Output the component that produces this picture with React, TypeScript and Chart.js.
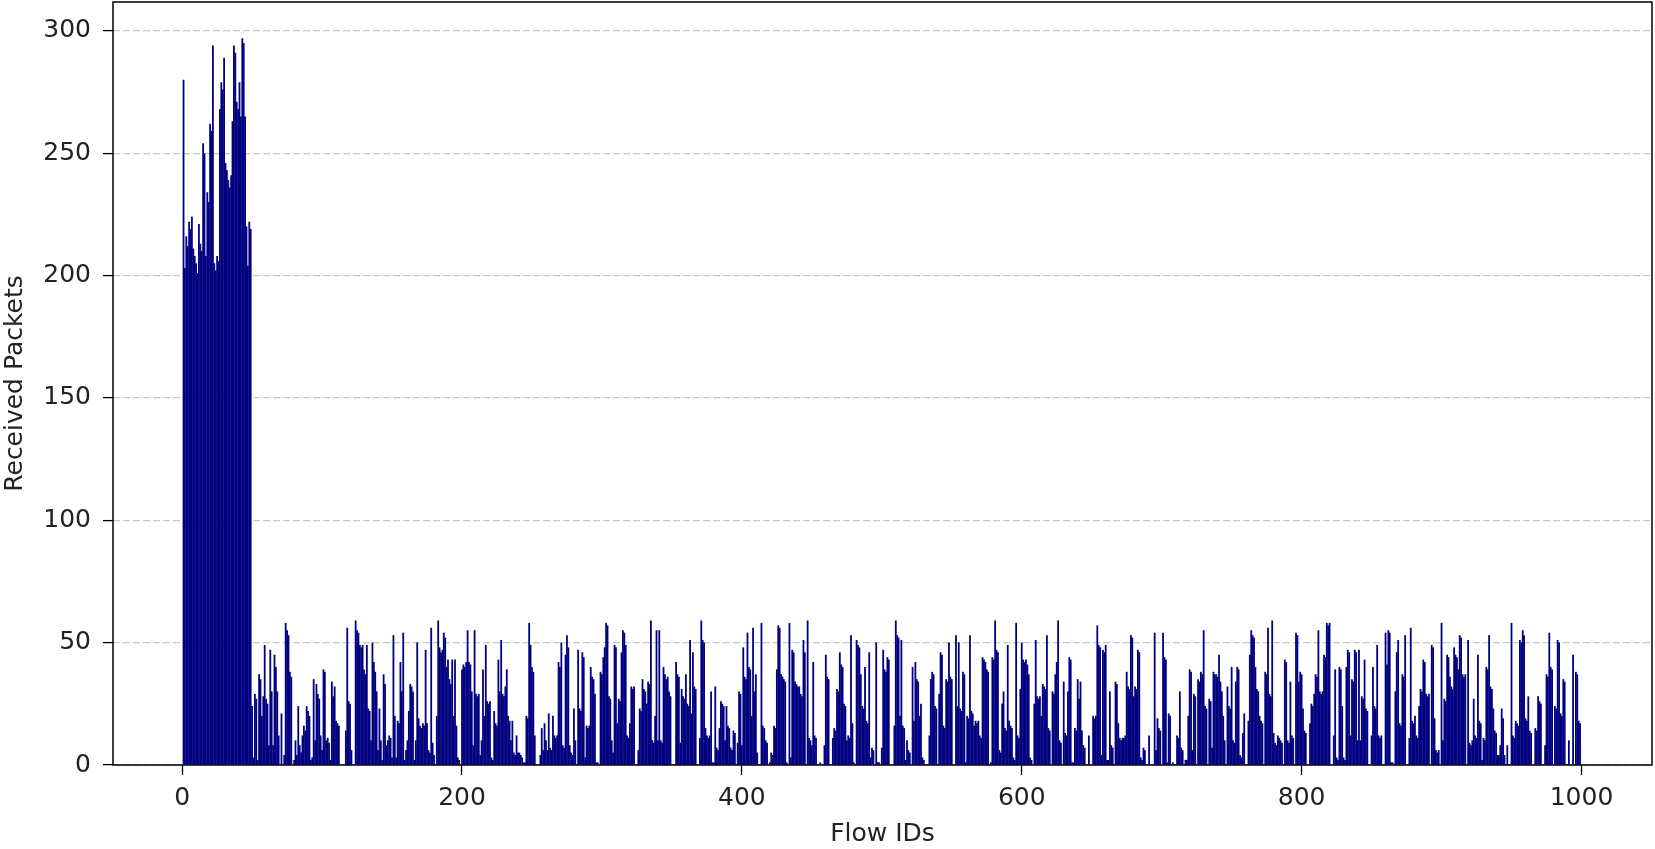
import React, { useEffect, useRef } from "react";
import { Chart, registerables } from "chart.js";

Chart.register(...registerables);

const xTickValues = [0, 200, 400, 600, 800, 1000];
const yTickValues = [0, 50, 100, 150, 200, 250, 300];
const xAxisTitle = "Flow IDs";
const yAxisTitle = "Received Packets";

// Received packets per flow, flows 1..1000
const packets1to49 = [280, 203, 216, 212, 222, 219, 224, 211, 208, 205, 201, 221, 213, 210, 254, 250, 208, 234, 230, 262, 259, 294, 205, 202, 208, 206, 268, 279, 276, 289, 246, 243, 239, 236, 241, 263, 294, 291, 271, 268, 279, 265, 297, 295, 265, 220, 204, 222, 219];
const packets50to144 = [24, 3, 29, 27, 2, 37, 35, 20, 28, 49, 27, 25, 8, 47, 30, 8, 45, 40, 30, 12, 0, 21, 0, 4, 58, 55, 53, 38, 36, 0, 2, 10, 4, 24, 8, 5, 12, 16, 14, 24, 22, 20, 2, 3, 35, 10, 33, 29, 27, 12, 6, 39, 38, 10, 11, 9, 2, 34, 28, 32, 18, 17, 16, 0, 0, 0, 0, 14, 56, 26, 25, 6, 0, 0, 59, 55, 54, 49, 48, 49, 39, 37, 49, 23, 22, 10, 50, 42, 38, 30, 6, 23, 10, 2, 37];
const packets145to241 = [33, 8, 10, 12, 11, 3, 53, 20, 3, 18, 17, 42, 30, 54, 2, 6, 10, 22, 33, 32, 30, 2, 10, 50, 19, 16, 15, 17, 16, 47, 17, 6, 5, 56, 9, 4, 0, 20, 59, 48, 46, 47, 54, 52, 40, 43, 35, 33, 43, 20, 43, 16, 3, 2, 0, 39, 41, 40, 42, 55, 42, 41, 30, 8, 55, 29, 28, 29, 4, 10, 39, 20, 49, 26, 25, 26, 3, 2, 22, 17, 16, 43, 30, 51, 29, 28, 32, 39, 20, 18, 10, 18, 5, 4, 12, 5, 5];
const packets242to341 = [4, 3, 1, 1, 20, 19, 58, 49, 40, 38, 12, 0, 0, 0, 4, 15, 6, 17, 10, 6, 21, 7, 6, 20, 12, 11, 12, 42, 40, 50, 8, 7, 45, 53, 48, 8, 5, 4, 23, 10, 0, 47, 23, 22, 46, 44, 3, 16, 15, 16, 40, 36, 35, 29, 1, 1, 0, 38, 37, 44, 48, 58, 57, 28, 27, 10, 5, 49, 48, 17, 27, 26, 46, 55, 54, 49, 12, 11, 17, 32, 31, 32, 0, 0, 6, 23, 22, 35, 31, 30, 25, 34, 33, 59, 10, 9, 20, 55, 10, 55];
const packets342to440 = [10, 9, 40, 37, 35, 36, 30, 28, 0, 0, 0, 42, 37, 36, 9, 31, 28, 27, 37, 25, 24, 51, 21, 46, 32, 31, 0, 0, 11, 59, 51, 50, 15, 12, 11, 12, 30, 1, 1, 32, 7, 6, 15, 26, 25, 24, 10, 24, 16, 15, 7, 6, 14, 13, 0, 9, 30, 29, 8, 48, 36, 35, 54, 40, 39, 20, 56, 30, 37, 5, 0, 0, 58, 16, 15, 10, 9, 0, 1, 5, 4, 16, 15, 39, 57, 56, 37, 36, 35, 34, 1, 0, 58, 3, 47, 46, 34, 33, 32];
const packets441to540 = [32, 29, 28, 51, 46, 0, 59, 11, 10, 8, 42, 12, 11, 0, 0, 1, 0, 0, 8, 45, 36, 35, 0, 0, 11, 15, 14, 31, 30, 46, 41, 40, 25, 24, 10, 12, 11, 53, 17, 1, 0, 51, 49, 48, 37, 24, 23, 40, 18, 17, 46, 3, 7, 6, 0, 50, 1, 1, 0, 7, 47, 39, 38, 44, 43, 0, 0, 0, 16, 59, 53, 52, 20, 51, 16, 15, 2, 10, 6, 5, 0, 40, 18, 42, 35, 34, 20, 25, 3, 2, 0, 0, 0, 12, 35, 38, 37, 24, 23, 0];
const packets541to640 = [29, 46, 45, 16, 15, 35, 34, 50, 36, 35, 0, 0, 53, 24, 50, 23, 22, 38, 37, 1, 20, 19, 53, 22, 21, 16, 18, 17, 18, 12, 11, 44, 43, 42, 39, 38, 0, 1, 44, 43, 59, 47, 46, 6, 5, 25, 30, 15, 14, 49, 18, 16, 15, 3, 2, 58, 12, 11, 31, 50, 43, 42, 43, 41, 37, 3, 2, 0, 25, 51, 28, 27, 28, 20, 33, 32, 31, 53, 15, 14, 0, 30, 29, 37, 42, 59, 10, 9, 0, 34, 13, 12, 30, 44, 43, 1, 1, 15, 14, 35];
const packets641to740 = [27, 34, 14, 8, 7, 0, 0, 12, 0, 0, 20, 19, 20, 57, 49, 48, 4, 47, 46, 49, 2, 2, 30, 8, 7, 0, 34, 33, 17, 11, 10, 11, 11, 12, 38, 32, 31, 53, 52, 28, 32, 31, 47, 46, 3, 2, 7, 6, 0, 0, 12, 0, 0, 0, 54, 6, 19, 15, 14, 0, 54, 44, 43, 1, 21, 20, 0, 1, 0, 0, 12, 11, 30, 7, 6, 0, 2, 2, 20, 39, 38, 6, 29, 28, 0, 35, 34, 38, 37, 55, 24, 23, 0, 27, 26, 7, 38, 37, 37, 36];
const packets741to840 = [45, 34, 30, 20, 10, 0, 32, 24, 23, 40, 10, 9, 34, 40, 39, 4, 3, 13, 21, 0, 0, 18, 45, 55, 53, 52, 40, 31, 30, 20, 18, 17, 0, 38, 37, 56, 29, 28, 59, 13, 9, 8, 12, 11, 10, 9, 0, 43, 42, 10, 9, 34, 12, 11, 0, 54, 53, 34, 38, 37, 23, 14, 13, 0, 0, 17, 25, 24, 29, 37, 36, 55, 30, 29, 30, 45, 44, 58, 57, 58, 0, 0, 12, 39, 3, 2, 40, 39, 24, 3, 2, 40, 47, 46, 12, 35, 34, 47, 46, 10];
const packets841to940 = [47, 10, 28, 27, 43, 23, 22, 0, 0, 12, 40, 24, 23, 49, 12, 11, 12, 0, 0, 54, 41, 55, 54, 1, 1, 0, 30, 46, 51, 17, 16, 37, 36, 53, 0, 0, 11, 56, 18, 17, 20, 12, 11, 24, 31, 30, 43, 42, 29, 28, 29, 0, 49, 48, 19, 6, 5, 6, 0, 58, 10, 27, 26, 45, 44, 36, 32, 31, 48, 45, 44, 39, 53, 52, 37, 36, 37, 0, 51, 9, 8, 10, 27, 12, 11, 45, 18, 17, 2, 11, 10, 40, 39, 53, 32, 31, 23, 14, 13, 4];
const packets941to1000 = [4, 8, 23, 19, 4, 0, 8, 0, 0, 58, 12, 11, 18, 17, 16, 51, 50, 55, 53, 19, 18, 28, 14, 13, 0, 0, 15, 14, 28, 26, 25, 0, 0, 8, 37, 36, 54, 40, 39, 0, 24, 23, 51, 50, 21, 20, 35, 34, 0, 0, 10, 0, 0, 45, 0, 38, 37, 18, 17, 0];

const receivedPackets = [
  ...packets1to49,
  ...packets50to144,
  ...packets145to241,
  ...packets242to341,
  ...packets342to440,
  ...packets441to540,
  ...packets541to640,
  ...packets641to740,
  ...packets741to840,
  ...packets841to940,
  ...packets941to1000,
];
const flowIds = receivedPackets.map((_, i) => i + 1);

const FONT = { family: "'DejaVu Sans', sans-serif", size: 25 };

const framePlugin = {
  id: "frame",
  afterDraw(chart: any) {
    const { ctx, chartArea: a } = chart;
    ctx.save();
    ctx.strokeStyle = "#000";
    ctx.lineWidth = 1.5;
    ctx.setLineDash([]);
    ctx.strokeRect(a.left, a.top, a.right - a.left, a.bottom - a.top);
    ctx.restore();
  },
};

export default function App() {
  const ref = useRef<HTMLCanvasElement | null>(null);

  useEffect(() => {
    document.body.style.margin = "0";
    if (!ref.current) return;
    const chart = new Chart(ref.current, {
      type: "bar",
      data: {
        datasets: [
          {
            data: flowIds.map((x, i) => ({ x, y: receivedPackets[i] })) as any,
            backgroundColor: "#000080",
            borderWidth: 0,
            barPercentage: 1.0,
            categoryPercentage: 1.0,
            inflateAmount: 0.2,
          },
        ],
      },
      options: {
        responsive: false,
        animation: false,
        devicePixelRatio: 1,
        layout: { padding: { left: 0, right: 3, top: 2, bottom: 0 } },
        plugins: { legend: { display: false }, tooltip: { enabled: false } },
        scales: {
          x: {
            type: "linear",
            min: -49.4,
            max: 1050.4,
            offset: false,
            afterBuildTicks: (s: any) => {
              s.ticks = xTickValues.map((v) => ({ value: v }));
            },
            afterFit: (s: any) => {
              s.height = 84;
              s.paddingLeft = 0;
              s.paddingRight = 0;
            },
            grid: {
              offset: false,
              drawOnChartArea: false,
              drawTicks: true,
              tickLength: 10,
              tickColor: "#000",
              tickWidth: 1.3,
            },
            border: { display: false },
            ticks: {
              color: "#222",
              font: FONT,
              padding: 8,
              maxRotation: 0,
              autoSkip: false,
              callback: (v: any) => String(v),
            },
            title: {
              display: true,
              text: xAxisTitle,
              color: "#222",
              font: FONT,
              padding: 0,
            },
          },
          y: {
            type: "linear",
            min: 0,
            max: 311.85,
            z: 1,
            afterBuildTicks: (s: any) => {
              s.ticks = yTickValues.map((v) => ({ value: v }));
            },
            afterFit: (s: any) => {
              s.width = 113;
              s.paddingTop = 0;
              s.paddingBottom = 0;
            },
            grid: {
              color: "rgba(176,176,176,0.7)",
              lineWidth: 1.2,
              drawTicks: true,
              tickLength: 10,
              tickColor: "#000",
              tickWidth: 1.3,
              tickBorderDash: [],
            },
            border: { display: false, dash: [7, 3] },
            ticks: { color: "#222", font: FONT, padding: 12, callback: (v: any) => String(v) },
            title: {
              display: true,
              text: yAxisTitle,
              color: "#222",
              font: FONT,
              padding: 0,
            },
          },
        },
      } as any,
      plugins: [framePlugin],
    });
    return () => chart.destroy();
  }, []);

  return (
    <div style={{ position: "absolute", left: 0, top: 0, width: 1655, height: 849 }}>
      <canvas ref={ref} width={1655} height={849} />
    </div>
  );
}
